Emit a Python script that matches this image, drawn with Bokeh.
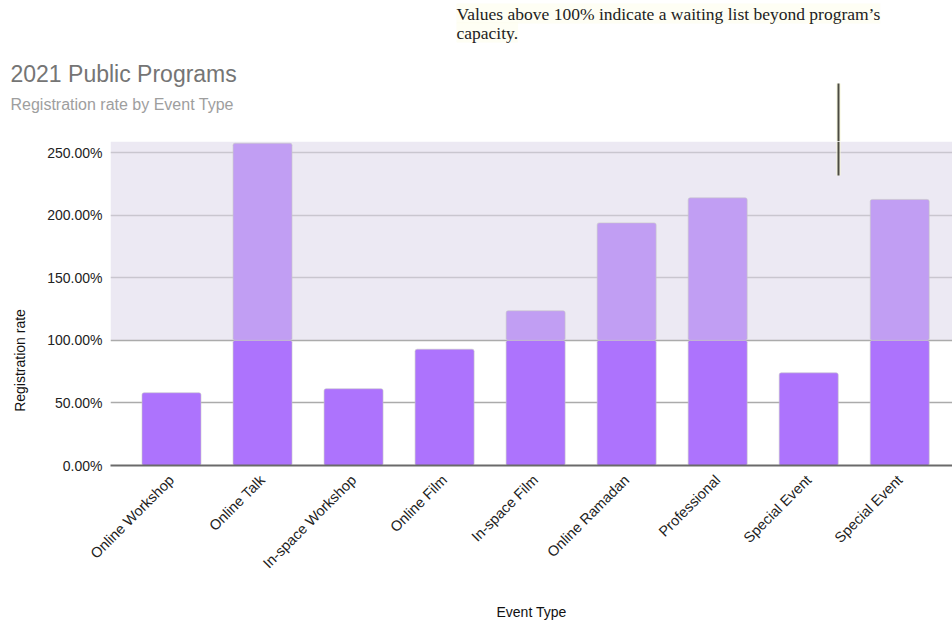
import math
import numpy as np
from bokeh.plotting import figure
from bokeh.layouts import column, row
from bokeh.models import (Range1d, FixedTicker, PrintfTickFormatter, Grid, BoxAnnotation,
                          Label, Arrow, ColumnDataSource)
from bokeh.embed import file_html
from bokeh.resources import INLINE

# ---------------- data ----------------
categories = ["Online Workshop", "Online Talk", "In-space Workshop", "Online Film",
              "In-space Film", "Online Ramadan", "Professional", "Special Event", "Special Event"]
registration_rate = [58.1, 257.4, 61.3, 92.9, 123.6, 193.8, 213.8, 74.0, 212.5]
capacity = 100.0
y_ticks = [0, 50, 100, 150, 200, 250]

title_text = "2021 Public Programs"
subtitle_text = "Registration rate by Event Type"
note_lines = ["Values above 100% indicate a waiting list beyond program\u2019s", "capacity."]
x_title = "Event Type"
y_title = "Registration rate"

# ---------------- layout ----------------
W, H = 952, 623
HEAD = 141                                # header height (= chart frame top)
LEFT = 40                                 # width of the y-title strip
FL, FR, FB = 110, 952, 465                # chart frame edges in page px
X0_PX, STEP_PX = 171, 91.03               # first category center, spacing
x_start = (FL - X0_PX) / STEP_PX
x_end = (FR - X0_PX) / STEP_PX
y_top = 258.8
ys = (FB - HEAD) / y_top

def dx(px):
    return (px - X0_PX) / STEP_PX

def dy(py):
    return (FB - py) / ys

def blank(width, height, xr, yr):
    f = figure(width=width, height=height, output_backend="svg", toolbar_location=None,
               x_range=xr, y_range=yr, x_axis_type=None, y_axis_type=None,
               min_border_left=0, min_border_right=0, min_border_top=0, min_border_bottom=0)
    f.outline_line_color = None
    f.xgrid.visible = False
    f.ygrid.visible = False
    f.background_fill_color = "white"
    f.border_fill_color = "white"
    f.frame_align = False
    return f

# ---------------- header ----------------
h = blank(W, HEAD, Range1d(0, W), Range1d(HEAD, 0))
h.add_layout(Label(x=10, y=73, text=title_text, text_font="Liberation Sans",
                   text_font_size="23px", text_color="#757575", text_baseline="middle"))
h.add_layout(Label(x=10, y=104, text=subtitle_text, text_font="Liberation Sans",
                   text_font_size="16px", text_color="#9E9E9E", text_baseline="middle"))
for line, py in zip(note_lines, [13, 32]):
    h.add_layout(Label(x=456, y=py, text=line, text_font="Liberation Serif",
                       text_font_size="17.5px", text_color="#222222", text_baseline="middle",
                       background_fill_color="#FDFDEC", background_fill_alpha=0.6))
h.add_layout(Arrow(x_start=838, y_start=83, x_end=838, y_end=HEAD + 5, end=None,
                   line_color="#F8F8D8", line_width=5, line_alpha=0.5))
h.add_layout(Arrow(x_start=838, y_start=83, x_end=838, y_end=HEAD + 5, end=None,
                   line_color="#4B4B42", line_width=2))

# ---------------- y title strip ----------------
yl = blank(LEFT, H - HEAD, Range1d(0, LEFT), Range1d(H - HEAD, 0))
yl.add_layout(Label(x=19, y=360 - HEAD, text=y_title, angle=math.pi / 2,
                    text_font="Liberation Sans", text_font_size="14px", text_color="#111111",
                    text_align="center", text_baseline="middle"))

# ---------------- chart ----------------
idx = list(range(len(categories)))
rate = np.array(registration_rate)
under = np.minimum(rate, capacity)
over_idx = [i for i in idx if rate[i] > capacity]

p = figure(width=W - LEFT, height=H - HEAD, output_backend="svg", toolbar_location=None,
           x_range=Range1d(x_start, x_end), y_range=Range1d(0, y_top),
           min_border_left=FL - LEFT, min_border_right=W - FR, min_border_top=0,
           min_border_bottom=H - FB)
p.frame_align = False
p.outline_line_color = None
p.background_fill_color = "white"
p.border_fill_color = "white"

band = BoxAnnotation(bottom=capacity, fill_color="#ECE9F3", fill_alpha=1.0,
                     line_alpha=0, level="image")
p.add_layout(band)

p.xgrid.visible = False
p.ygrid.ticker = FixedTicker(ticks=[t for t in y_ticks if t > capacity])
p.ygrid.grid_line_color = "#C9C6CF"
p.ygrid.grid_line_width = 1.5
g2 = Grid(dimension=1, ticker=FixedTicker(ticks=[t for t in y_ticks if 0 < t <= capacity]),
          grid_line_color="#ABABAB", grid_line_width=1.5)
p.add_layout(g2)

src = ColumnDataSource(dict(x=idx, top=under))
p.vbar(x="x", top="top", bottom=0, width=0.648, source=src, fill_color="#AD73FD",
       line_color="#C8C8C8", line_alpha=0.6, line_width=1, border_radius=2)
src2 = ColumnDataSource(dict(x=over_idx, top=rate[over_idx], bottom=[capacity] * len(over_idx)))
p.vbar(x="x", top="top", bottom="bottom", width=0.648, source=src2, fill_color="#C19EF3",
       line_color="#C8C8C8", line_alpha=0.6, line_width=1, border_radius=2)

p.yaxis.ticker = FixedTicker(ticks=y_ticks)
p.yaxis.formatter = PrintfTickFormatter(format="%.2f%%")
p.yaxis.axis_line_color = None
p.yaxis.major_tick_line_color = None
p.yaxis.minor_tick_line_color = None
p.yaxis.major_label_text_font = "Liberation Sans"
p.yaxis.major_label_text_font_size = "14px"
p.yaxis.major_label_text_color = "#222222"
p.yaxis.major_label_standoff = 2

p.xaxis.ticker = FixedTicker(ticks=idx)
p.xaxis.major_label_overrides = {i: c for i, c in zip(idx, categories)}
p.xaxis.major_label_orientation = math.pi / 4
p.xaxis.axis_line_color = "#6A6A6A"
p.xaxis.axis_line_width = 2
p.xaxis.major_tick_line_color = None
p.xaxis.minor_tick_line_color = None
p.xaxis.major_label_text_font = "Liberation Sans"
p.xaxis.major_label_text_font_size = "14.5px"
p.xaxis.major_label_text_color = "#222222"
p.xaxis.major_label_standoff = 6
p.xaxis.axis_label = x_title
p.xaxis.axis_label_text_font = "Liberation Sans"
p.xaxis.axis_label_text_font_size = "14px"
p.xaxis.axis_label_text_font_style = "normal"
p.xaxis.axis_label_text_color = "#111111"
p.xaxis.axis_label_standoff = 24

# lower part of the note marker (inside the chart frame)
p.add_layout(Arrow(x_start=dx(838), y_start=dy(HEAD), x_end=dx(838), y_end=dy(175),
                   end=None, line_color="#F8F8D8", line_width=5, line_alpha=0.5))
p.add_layout(Arrow(x_start=dx(838), y_start=dy(HEAD), x_end=dx(838), y_end=dy(175),
                   end=None, line_color="#4B4B42", line_width=2))

layout = column(h, row(yl, p, spacing=0), spacing=0)
open("out.html", "w").write(file_html(layout, INLINE))
